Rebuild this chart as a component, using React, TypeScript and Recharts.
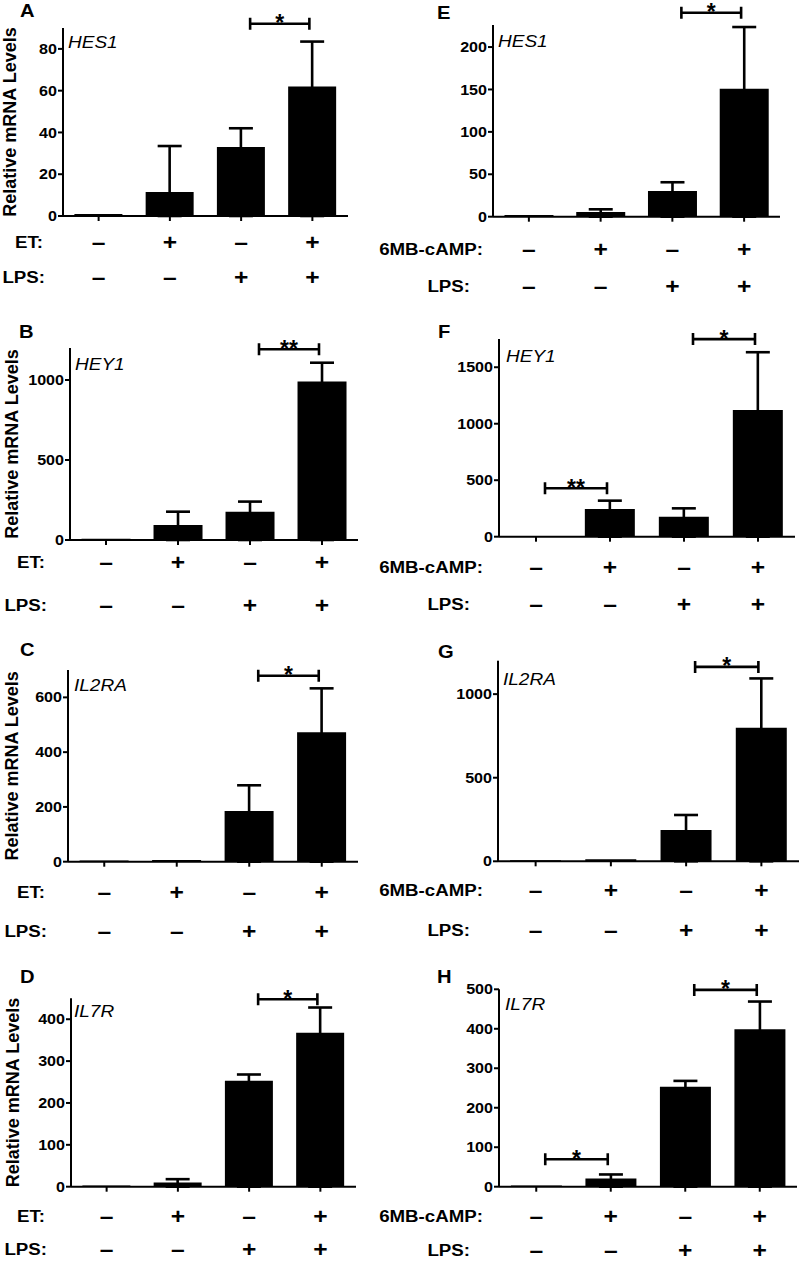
import React from "react";
import { BarChart, Bar, XAxis, YAxis, ErrorBar, ReferenceLine } from "recharts";

const FONT = "'Liberation Sans', Arial, Helvetica, sans-serif";
const YW = 45;

// four conditions, same order in every panel
const conditions = ["ctrl", "treat", "lps", "treat+lps"];
const treatSigns = ["–", "+", "–", "+"];
const lpsSigns = ["–", "–", "+", "+"];

// ET panels (left column)
const hes1EtMean = [1, 11.5, 33, 62];
const hes1EtErr = [0, 22, 9, 21.5];
const hey1EtMean = [8, 94, 177, 990];
const hey1EtErr = [0, 83, 63, 118];
const il2raEtMean = [4, 6, 185, 473];
const il2raEtErr = [0, 0, 94, 160];
const il7rEtMean = [3, 10.3, 253, 368];
const il7rEtErr = [0, 7.7, 15, 60];

// 6MB-cAMP panels (right column)
const hes1CampMean = [2, 5.5, 30.3, 150.8];
const hes1CampErr = [0, 3.2, 10.3, 72.8];
const hey1CampMean = [1, 245, 177, 1122];
const hey1CampErr = [0, 74, 74, 511];
const il2raCampMean = [6, 12, 187, 799];
const il2raCampErr = [0, 0, 90, 295];
const il7rCampMean = [3, 21, 253, 399];
const il7rCampErr = [0, 10, 15, 70];

// significance brackets: from / to are condition indexes
type Sig = { from: number; to: number; y: number; mark: string };
const sigA: Sig[] = [{ from: 2, to: 3, y: 92, mark: "*" }];
const sigB: Sig[] = [{ from: 2, to: 3, y: 1192, mark: "**" }];
const sigC: Sig[] = [{ from: 2, to: 3, y: 679, mark: "*" }];
const sigD: Sig[] = [{ from: 2, to: 3, y: 447.8, mark: "*" }];
const sigE: Sig[] = [{ from: 2, to: 3, y: 240.5, mark: "*" }];
const sigF: Sig[] = [
  { from: 0, to: 1, y: 429, mark: "**" },
  { from: 2, to: 3, y: 1749, mark: "*" },
];
const sigG: Sig[] = [{ from: 2, to: 3, y: 1163, mark: "*" }];
const sigH: Sig[] = [
  { from: 0, to: 1, y: 69.4, mark: "*" },
  { from: 2, to: 3, y: 498.5, mark: "*" },
];

const etNames = ["ET:", "LPS:"];
const campNames = ["6MB-cAMP:", "LPS:"];

const panels = [
  { letter: "A", gene: "HES1", mean: hes1EtMean, err: hes1EtErr, sigs: sigA, max: 90, ticks: [0, 20, 40, 60, 80],
    L: 0, top: 0, x0: 63, x1: 348, yTop: 28, base: 216, rowOff: [26, 61], names: etNames, nameRight: [43, 45],
    letterPos: [20, 16.5], genePos: [68, 48], yLabelX: 10, axisH: 88 },
  { letter: "B", gene: "HEY1", mean: hey1EtMean, err: hey1EtErr, sigs: sigB, max: 1200, ticks: [0, 500, 1000],
    L: 0, top: 312, x0: 70, x1: 358, yTop: 348, base: 540, rowOff: [22, 65], names: etNames, nameRight: [45, 47],
    letterPos: [19, 338], genePos: [75, 370], yLabelX: 12, axisH: 88 },
  { letter: "C", gene: "IL2RA", mean: il2raEtMean, err: il2raEtErr, sigs: sigC, max: 700, ticks: [0, 200, 400, 600],
    L: 0, top: 632, x0: 68, x1: 358, yTop: 670, base: 861.7, rowOff: [31, 70], names: etNames, nameRight: [45, 47],
    letterPos: [20, 656], genePos: [74, 690.5], yLabelX: 11.5, axisH: 88 },
  { letter: "D", gene: "IL7R", mean: il7rEtMean, err: il7rEtErr, sigs: sigD, max: 450, ticks: [0, 100, 200, 300, 400],
    L: 0, top: 950, x0: 71, x1: 356, yTop: 998.3, base: 1186.7, rowOff: [30, 63], names: etNames, nameRight: [45, 47],
    letterPos: [20, 983], genePos: [74, 1017], yLabelX: 12.5, axisH: 76.3 },
  { letter: "E", gene: "HES1", mean: hes1CampMean, err: hes1CampErr, sigs: sigE, max: 226, ticks: [0, 50, 100, 150, 200],
    L: 372, top: 0, x0: 493, x1: 780, yTop: 25, base: 216.7, rowOff: [33, 70], names: campNames, nameRight: [483, 470],
    letterPos: [437, 19], genePos: [498, 46.5], yLabelX: 0, axisH: 88 },
  { letter: "F", gene: "HEY1", mean: hey1CampMean, err: hey1CampErr, sigs: sigF, max: 1750, ticks: [0, 500, 1000, 1500],
    L: 372, top: 312, x0: 499, x1: 795, yTop: 339, base: 536.7, rowOff: [31, 68], names: campNames, nameRight: [483, 470],
    letterPos: [438, 338], genePos: [506, 361.5], yLabelX: 0, axisH: 88 },
  { letter: "G", gene: "IL2RA", mean: il2raCampMean, err: il2raCampErr, sigs: sigG, max: 1200, ticks: [0, 500, 1000],
    L: 372, top: 632, x0: 498, x1: 799, yTop: 660.7, base: 861.3, rowOff: [29, 69], names: campNames, nameRight: [483, 470],
    letterPos: [438, 658], genePos: [503, 685], yLabelX: 0, axisH: 88 },
  { letter: "H", gene: "IL7R", mean: il7rCampMean, err: il7rCampErr, sigs: sigH, max: 500, ticks: [0, 100, 200, 300, 400, 500],
    L: 372, top: 950, x0: 499, x1: 797, yTop: 989.3, base: 1186.7, rowOff: [30, 63.5], names: campNames, nameRight: [483, 470],
    letterPos: [437, 983], genePos: [505, 1010], yLabelX: 0, axisH: 76.3 },
];

function YTick(props: any) {
  const { x, y, payload } = props;
  return (
    <text
      transform={`translate(${x},${y}) scale(1.15,1)`}
      textAnchor="end"
      dominantBaseline="central"
      fontSize={14}
      fontWeight="bold"
      fontFamily={FONT}
      fill="#000"
    >
      {payload.value}
    </text>
  );
}

function SignTick(props: any) {
  const { x, y, payload, index, cfg } = props;
  const i = payload?.index ?? index;
  const y0 = y - 5;
  const signStyle = { fontSize: 22, fontWeight: "bold" as const, fontFamily: FONT, fill: "#000" };
  return (
    <g>
      <text transform={`translate(${x},${y0 + cfg.rowOff[0]}) scale(1.12,1)`} textAnchor="middle" dominantBaseline="central" {...signStyle}>
        {treatSigns[i]}
      </text>
      <text transform={`translate(${x},${y0 + cfg.rowOff[1]}) scale(1.12,1)`} textAnchor="middle" dominantBaseline="central" {...signStyle}>
        {lpsSigns[i]}
      </text>
      {i === 0 &&
        cfg.names.map((n: string, k: number) => (
          <text
            key={n}
            transform={`translate(${cfg.nameRight[k] - cfg.L},${y0 + cfg.rowOff[k]}) scale(1.1,1)`}
            textAnchor="end"
            dominantBaseline="central"
            fontSize={17}
            fontWeight="bold"
            fontFamily={FONT}
            fill="#000"
          >
            {n}
          </text>
        ))}
    </g>
  );
}

function Bracket(props: any) {
  const { x1, x2, y1, mark } = props;
  const a = x1 + 9;
  const b = x2 - 3;
  return (
    <g>
      <path
        d={`M${a},${y1}H${b}M${a},${y1 - 6}V${y1 + 6}M${b},${y1 - 6}V${y1 + 6}`}
        stroke="#000"
        strokeWidth={2.6}
        fill="none"
      />
      <text x={(a + b) / 2} y={y1 + 7.5} textAnchor="middle" fontSize={23} fontWeight="bold" fontFamily={FONT} fill="#000">
        {mark}
      </text>
    </g>
  );
}

function Panel({ cfg }: { cfg: any }) {
  // lower whisker reaches the baseline so it stays hidden inside the black bar
  const data = conditions.map((c, i) => ({
    cond: c,
    mean: cfg.mean[i],
    err: cfg.err[i] > 0 ? [cfg.mean[i], cfg.err[i]] : null,
  }));
  const mt = cfg.yTop - cfg.top;
  const ml = cfg.x0 - cfg.L - YW;
  const W = cfg.x1 - cfg.L + 4;
  const H = mt + (cfg.base - cfg.yTop) + cfg.axisH;

  return (
    <div style={{ position: "absolute", left: cfg.L, top: cfg.top, width: W, height: H }}>
      <BarChart width={W} height={H} data={data} margin={{ top: mt, right: 4, left: ml, bottom: 0 }} barCategoryGap="16%">
        <XAxis
          dataKey="cond"
          interval={0}
          height={cfg.axisH}
          tickSize={5}
          tickMargin={0}
          axisLine={{ stroke: "#000", strokeWidth: 2 }}
          tickLine={{ stroke: "#000", strokeWidth: 2 }}
          tick={(p: any) => <SignTick {...p} cfg={cfg} />}
        />
        <YAxis
          width={YW}
          domain={[0, cfg.max]}
          ticks={cfg.ticks}
          allowDataOverflow
          tickSize={5}
          tickMargin={1}
          axisLine={{ stroke: "#000", strokeWidth: 2 }}
          tickLine={{ stroke: "#000", strokeWidth: 2 }}
          tick={YTick}
          label={
            cfg.yLabelX > 0
              ? {
                  value: "Relative mRNA Levels",
                  angle: -90,
                  position: "insideLeft",
                  offset: cfg.yLabelX - ml,
                  style: { textAnchor: "middle", fontSize: 18, fontWeight: "bold", fontFamily: FONT, fill: "#000" },
                }
              : undefined
          }
        />
        <Bar dataKey="mean" fill="#000" isAnimationActive={false}>
          <ErrorBar dataKey="err" width={12} strokeWidth={2.6} stroke="#000" direction="y" isAnimationActive={false} />
        </Bar>
        {cfg.sigs.map((s: Sig, k: number) => (
          <ReferenceLine
            key={k}
            ifOverflow="visible"
            segment={[
              { x: conditions[s.from], y: s.y },
              { x: conditions[s.to], y: s.y },
            ]}
            shape={(p: any) => <Bracket {...p} mark={s.mark} />}
          />
        ))}
      </BarChart>
    </div>
  );
}

export default function App() {
  return (
    <div style={{ position: "absolute", left: 0, top: 0, width: 800, height: 1263, overflow: "hidden", background: "#fff" }}>
      {panels.map((cfg) => (
        <Panel key={cfg.letter} cfg={cfg} />
      ))}
      <svg width={800} height={1263} style={{ position: "absolute", left: 0, top: 0, pointerEvents: "none" }}>
        {panels.map((cfg) => (
          <g key={cfg.letter}>
            <text
              transform={`translate(${cfg.letterPos[0]},${cfg.letterPos[1]}) scale(1.12,1)`}
              fontSize={18}
              fontWeight="bold"
              fontFamily={FONT}
              fill="#000"
            >
              {cfg.letter}
            </text>
            <text
              transform={`translate(${cfg.genePos[0]},${cfg.genePos[1]}) scale(1.12,1)`}
              fontSize={17}
              fontStyle="italic"
              fontFamily={FONT}
              fill="#000"
            >
              {cfg.gene}
            </text>
          </g>
        ))}
      </svg>
    </div>
  );
}
